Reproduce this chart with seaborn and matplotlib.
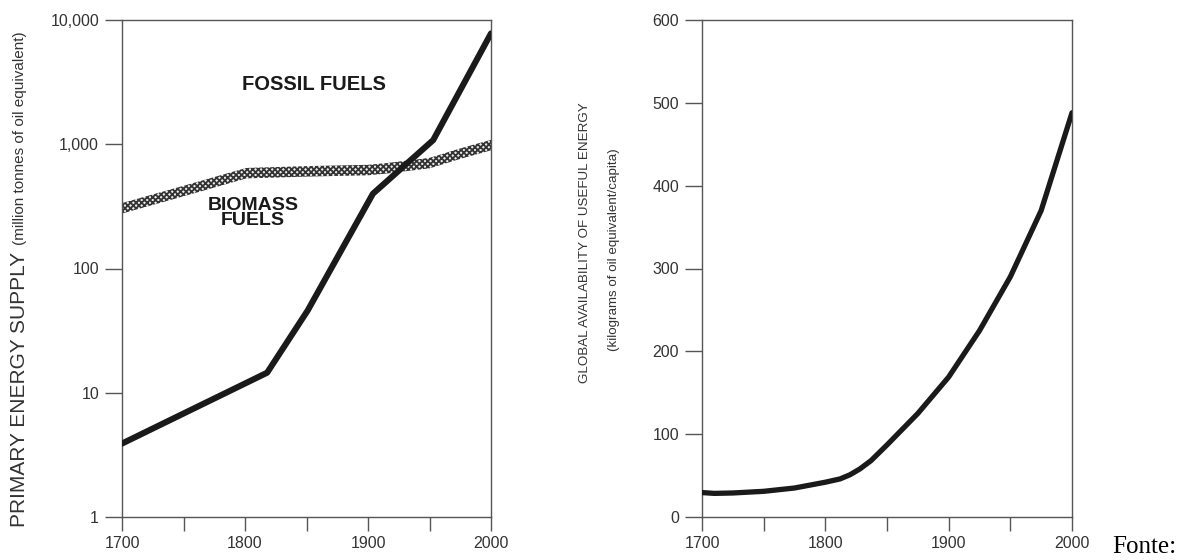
import matplotlib
matplotlib.use("Agg")
import matplotlib.pyplot as plt
import numpy as np
import pandas as pd
import seaborn as sns

# Left panel: primary energy supply (million tonnes of oil equivalent), log scale
fossil_years = [1700, 1818, 1851, 1904, 1953, 2000]
fossil_values = [3.9, 14.5, 46, 400, 1080, 7800]

biomass_years = [1700, 1750, 1801, 1850, 1900, 1915, 1950, 1975, 2000]
biomass_values = [305, 420, 585, 605, 620, 640, 705, 840, 985]

# Right panel: useful energy per capita (kg oil equivalent / capita)
useful_years = [1700, 1710, 1725, 1750, 1775, 1800, 1812, 1820, 1828, 1837,
                1850, 1875, 1900, 1925, 1950, 1975, 2000]
useful_values = [29.5, 28.5, 29, 31, 35, 42, 46, 51, 58, 68,
                 87, 125, 169, 225, 290, 370, 488]

year_ticks = [1700, 1750, 1800, 1850, 1900, 1950, 2000]
year_labels = ["1700", "", "1800", "", "1900", "", "2000"]
log_ticks = [1, 10, 100, 1000, 10000]
log_labels = ["1", "10", "100", "1,000", "10,000"]
lin_ticks = [0, 100, 200, 300, 400, 500, 600]

sns.set_theme(style="ticks")
plt.rcParams['font.family'] = ['Liberation Sans', 'DejaVu Sans']
plt.rcParams['hatch.linewidth'] = 1.3

spine_col = "#555555"
text_col = "#333333"
line_col = "#1a1a1a"

fig = plt.figure(figsize=(11.77, 5.60), dpi=100)
ax1 = fig.add_axes([122 / 1177, 43 / 560, 369 / 1177, 497 / 560])
ax2 = fig.add_axes([702 / 1177, 43 / 560, 370 / 1177, 497 / 560])

# biomass band (hatched, checkered look)
bio = np.array(biomass_values, dtype=float)
band = 10 ** 0.042
ax1.fill_between(biomass_years, bio / band, bio * band, facecolor="#ececec",
                 edgecolor="#333333", hatch="xxxxxx", linewidth=0, zorder=2)

fossil_df = pd.DataFrame({'year': fossil_years, 'value': fossil_values})
sns.lineplot(data=fossil_df, x='year', y='value', ax=ax1, color=line_col,
             linewidth=4.4, zorder=3)

useful_df = pd.DataFrame({'year': useful_years, 'value': useful_values})
sns.lineplot(data=useful_df, x='year', y='value', ax=ax2, color=line_col,
             linewidth=3.8, zorder=3)

ax1.set_yscale('log')
ax1.set_ylim(1, 10000)
ax1.set_yticks(log_ticks)
ax1.set_yticklabels(log_labels)
ax1.yaxis.set_minor_locator(matplotlib.ticker.NullLocator())

ax2.set_ylim(0, 600)
ax2.set_yticks(lin_ticks)
ax2.set_yticklabels([str(v) for v in lin_ticks])

for ax in (ax1, ax2):
    ax.set_xlim(1700, 2000)
    ax.set_xticks(year_ticks)
    ax.set_xticklabels(year_labels)
    ax.set_xlabel("")
    ax.set_ylabel("")
    for s in ax.spines.values():
        s.set_visible(True)
        s.set_color(spine_col)
        s.set_linewidth(1.0)
    ax.tick_params(axis='y', direction='out', length=12.5, width=1.0,
                   color=spine_col, labelcolor=text_col, labelsize=11.5, pad=4)
    ax.tick_params(axis='x', direction='out', length=10, width=1.0,
                   color=spine_col, labelcolor=text_col, labelsize=11.5, pad=4)

ax1.text(1856, 3000, "FOSSIL FUELS", fontsize=14.5, fontweight='bold',
         color=line_col, ha='center', va='center')
ax1.text(1806.5, 280, "BIOMASS\nFUELS", fontsize=14, fontweight='bold',
         color=line_col, ha='center', va='center', linespacing=0.85)

# axis titles
fig.text(20 / 1177, 1 - 389 / 560, "PRIMARY ENERGY SUPPLY", rotation=90,
         fontsize=15, color=text_col, ha='center', va='center')
fig.text(20 / 1177, 1 - 138 / 560, "(million tonnes of oil equivalent)",
         rotation=90, fontsize=11, color=text_col, ha='center', va='center')
fig.text(585 / 1177, 1 - 243 / 560, "GLOBAL AVAILABILITY OF USEFUL ENERGY",
         rotation=90, fontsize=9.6, color=text_col, ha='center', va='center')
fig.text(614 / 1177, 1 - 250 / 560, "(kilograms of oil equivalent/capita)",
         rotation=90, fontsize=9.6, color=text_col, ha='center', va='center')

fig.text(1176 / 1177, 2 / 560, "Fonte:", family=['Liberation Serif', 'DejaVu Serif'],
         fontsize=18, color='black', ha='right', va='bottom')

plt.savefig("out.png", dpi=100)
